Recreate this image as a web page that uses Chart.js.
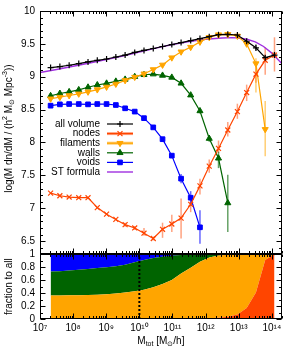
<!DOCTYPE html>
<html>
<head>
<meta charset="utf-8">
<script src="https://cdn.jsdelivr.net/npm/chart.js"></script>
<style>
  html, body { margin: 0; padding: 0; background: #fff; }
  #wrap { width: 287px; height: 349px; }
</style>
</head>
<body>
<div id="wrap"><canvas id="massChart" width="287" height="349"></canvas></div>
<script>
// bin centres, log10(M_tot / (M_sun/h))
const LOG_MASS = [7.32, 7.60, 7.88, 8.17, 8.45, 8.73, 9.01, 9.29, 9.57, 9.86, 10.14, 10.42, 10.70,
    10.98, 11.26, 11.55, 11.83, 12.11, 12.39, 12.67, 12.96, 13.24, 13.52, 13.80, 14.08];

// log(M dn/dM) for every environment
const ALL_VOLUME = [9.14, 9.155, 9.175, 9.20, 9.225, 9.25, 9.27, 9.30, 9.33, 9.37, 9.40, 9.43, 9.46,
    9.49, 9.52, 9.55, 9.58, 9.61, 9.64, 9.645, 9.635, 9.54, 9.44, 9.29, 9.33];
const NODES = [7.23, 7.19, 7.17, 7.16, 7.16, 7.01, 6.91, 6.83, 6.75, 6.70, 6.62, 6.54, 6.68,
    6.76, 6.85, 7.06, 7.34, 7.64, 7.91, 8.19, 8.47, 8.76, 9.04, 9.25, 9.33];
const FILAMENTS = [8.665, 8.69, 8.715, 8.74, 8.77, 8.805, 8.845, 8.89, 8.945, 8.995, 9.045, 9.11, 9.18,
    9.29, 9.38, 9.45, 9.53, 9.60, 9.64, 9.645, 9.62, 9.50, 9.20, 8.20];
const WALLS = [8.71, 8.745, 8.77, 8.80, 8.84, 8.875, 8.90, 8.93, 8.96, 9.00, 9.03, 9.04, 9.02,
    8.99, 8.90, 8.72, 8.48, 8.06, 7.76, 7.08];
const VOIDS = [8.56, 8.58, 8.585, 8.585, 8.58, 8.585, 8.585, 8.57, 8.52, 8.47, 8.37, 8.23, 8.05,
    7.80, 7.45, 7.16, 6.71];

// error bars [low, high], null where too short to see
const ALL_ERR = [null, null, null, null, null, null, null, null, null, null, null, null, null,
    null, null, null, null, null, null, null, null, [9.50, 9.58], [9.39, 9.49], [9.25, 9.33], [9.29, 9.38]];
const NODES_ERR = [null, null, null, null, null, null, null, null, [6.72, 6.78], [6.67, 6.73],
    [6.58, 6.70], [6.51, 6.57], [6.55, 6.78], [6.64, 6.90], [6.54, 7.15], [6.94, 7.12], [7.21, 7.45],
    [7.54, 7.74], [7.84, 8.03], [8.09, 8.31], [8.36, 8.59], [8.63, 8.88], [8.91, 9.18], [9.03, 9.45], [9.08, 9.60]];
const FILAMENTS_ERR = [null, null, null, null, null, null, null, null, null, null, null, null, null,
    null, null, null, null, null, null, null, null, [9.46, 9.54], [8.76, 9.28], [7.79, 8.63]];
const WALLS_ERR = [null, null, null, null, null, null, null, null, null, null, null, null, null,
    null, null, null, [8.44, 8.52], [8.01, 8.10], [7.61, 7.86], [6.64, 7.51]];
const VOIDS_ERR = [null, null, null, null, null, null, null, null, null, null, null, null, null,
    null, [7.38, 7.52], [7.04, 7.26], [6.46, 6.97]];

// Sheth-Tormen curve
const ST_LOG_MASS = [7.0, 7.5, 8.0, 8.5, 9.0, 9.5, 10.0, 10.5, 11.0, 11.5, 12.0, 12.5, 12.8, 13.0,
    13.25, 13.5, 13.75, 14.0, 14.3];
const ST_FORMULA = [9.065, 9.11, 9.16, 9.21, 9.26, 9.315, 9.375, 9.435, 9.49, 9.535, 9.57, 9.59, 9.595,
    9.59, 9.57, 9.53, 9.46, 9.36, 9.20];

// fraction of all haloes in each environment (stacked in the lower panel)
const FRAC_ALL = [1, 1, 1, 1, 1, 1, 1, 1, 1, 1, 1, 1, 1, 1, 1, 1, 1, 1, 1, 1, 1, 1, 1, 1, 1];
const FRAC_NODES = [0.012, 0.011, 0.010, 0.009, 0.009, 0.006, 0.004, 0.003, 0.003, 0.002, 0.002, 0.001,
    0.002, 0.002, 0.002, 0.003, 0.006, 0.011, 0.019, 0.035, 0.068, 0.17, 0.41, 0.91, 1.0];
const FRAC_FILAMENTS = [0.35, 0.352, 0.355, 0.358, 0.362, 0.37, 0.38, 0.39, 0.405, 0.425, 0.45, 0.49,
    0.54, 0.60, 0.70, 0.79, 0.88, 0.94, 0.96, 0.957, 0.93, 0.83, 0.59, 0.09, 0];
const FRAC_WALLS = [0.37, 0.375, 0.385, 0.393, 0.40, 0.41, 0.415, 0.42, 0.43, 0.45, 0.46, 0.45,
    0.42, 0.375, 0.288, 0.202, 0.112, 0.049, 0.021, 0.008, 0.002, 0, 0, 0, 0];
const FRAC_VOIDS = [0.27, 0.26, 0.25, 0.24, 0.23, 0.214, 0.20, 0.187, 0.162, 0.123, 0.088, 0.059,
    0.038, 0.023, 0.01, 0.005, 0.002, 0, 0, 0, 0, 0, 0, 0, 0];

const X_TICKS = [1e7, 1e8, 1e9, 1e10, 1e11, 1e12, 1e13, 1e14];
const Y_TICKS = [6.5, 7, 7.5, 8, 8.5, 9, 9.5, 10];
const FRAC_TICKS = [0, 0.2, 0.4, 0.6, 0.8, 1];
const SPLIT_MASS = 1e10;

const FONT = '"Liberation Sans", Arial, sans-serif';
const SUP = { '0': '⁰', '1': '¹', '2': '²', '3': '³', '4': '⁴', '5': '⁵', '6': '⁶', '7': '⁷', '8': '⁸', '9': '⁹' };

function toPoints(logMass, values) {
    return values.map(function (v, i) { return { x: Math.pow(10, logMass[i]), y: v }; });
}

// draws text made of normal / sup / sub pieces, centred on (x, y)
function drawRich(ctx, parts, x, y, size) {
    const small = Math.round(size * 0.72);
    let width = 0;
    parts.forEach(function (p) {
        ctx.font = (p[1] ? small : size) + 'px ' + FONT;
        width += ctx.measureText(p[0]).width;
    });
    let cx = x - width / 2;
    ctx.textAlign = 'left';
    ctx.textBaseline = 'middle';
    parts.forEach(function (p) {
        ctx.font = (p[1] ? small : size) + 'px ' + FONT;
        let dy = 0;
        if (p[1] === 'sup') dy = -size * 0.35;
        if (p[1] === 'sub') dy = size * 0.28;
        ctx.fillText(p[0], cx, y + dy);
        cx += ctx.measureText(p[0]).width;
    });
}

const errorBarPlugin = {
    id: 'errorBars',
    beforeDatasetsDraw: function (chart) {
        const ctx = chart.ctx;
        ctx.save();
        chart.data.datasets.forEach(function (ds, i) {
            if (!ds.errorBars) return;
            const meta = chart.getDatasetMeta(i);
            const ys = chart.scales[ds.yAxisID];
            ctx.strokeStyle = ds.errorColor;
            ctx.lineWidth = 1.5;
            ds.errorBars.forEach(function (e, j) {
                if (!e || !meta.data[j]) return;
                const px = meta.data[j].x;
                ctx.beginPath();
                ctx.moveTo(px, ys.getPixelForValue(e[0]));
                ctx.lineTo(px, ys.getPixelForValue(e[1]));
                ctx.stroke();
            });
        });
        ctx.restore();
    }
};

const framePlugin = {
    id: 'frame',
    afterDatasetsDraw: function (chart) {
        const ctx = chart.ctx;
        const x = chart.scales.x, y = chart.scales.y, y2 = chart.scales.y2;
        ctx.save();

        // dotted split line in the fraction panel
        const sx = x.getPixelForValue(SPLIT_MASS);
        ctx.strokeStyle = '#000';
        ctx.lineWidth = 2;
        ctx.setLineDash([2, 2]);
        ctx.beginPath();
        ctx.moveTo(sx, y2.bottom);
        ctx.lineTo(sx, y2.top);
        ctx.stroke();
        ctx.setLineDash([]);

        ctx.lineWidth = 1;
        [y, y2].forEach(function (ys) {
            const top = Math.round(ys.top) + 0.5, bottom = Math.round(ys.bottom) - 0.5;
            const left = Math.round(x.left) + 0.5, right = Math.round(x.right) - 0.5;
            ctx.strokeRect(left, top, right - left, bottom - top);
            ctx.beginPath();
            // log ticks on top and bottom edges
            for (let n = 7; n <= 14; n++) {
                for (let k = 1; k <= 9; k++) {
                    const v = k * Math.pow(10, n);
                    if (v > x.max) break;
                    const px = Math.round(x.getPixelForValue(v)) + 0.5;
                    const len = k === 1 ? 5 : 2.5;
                    ctx.moveTo(px, top); ctx.lineTo(px, top + len);
                    ctx.moveTo(px, bottom); ctx.lineTo(px, bottom - len);
                }
            }
            // value ticks on left and right edges
            const lo = Math.round(ys.min * 10), hi = Math.round(ys.max * 10);
            const step = ys.id === 'y' ? 5 : 2;
            for (let t = lo; t <= hi; t++) {
                const py = Math.round(ys.getPixelForValue(t / 10)) + 0.5;
                const len = t % step === 0 ? 5 : 2.5;
                ctx.moveTo(left, py); ctx.lineTo(left + len, py);
                ctx.moveTo(right, py); ctx.lineTo(right - len, py);
            }
            ctx.stroke();
        });
        ctx.restore();
    }
};

const legendPlugin = {
    id: 'envLegend',
    afterDatasetsDraw: function (chart) {
        const ctx = chart.ctx;
        const rows = chart.data.datasets.filter(function (ds) { return ds.yAxisID === 'y'; });
        ctx.save();
        ctx.font = '10px ' + FONT;
        ctx.textAlign = 'right';
        ctx.textBaseline = 'middle';
        rows.forEach(function (ds, i) {
            const ly = 124 + i * 9.6;
            ctx.fillStyle = '#000';
            ctx.fillText(ds.label, 100, ly);
            if (ds.legendBand) {
                ctx.strokeStyle = ds.errorColor;
                ctx.lineWidth = 3;
                ctx.beginPath(); ctx.moveTo(107, ly); ctx.lineTo(133, ly); ctx.stroke();
            }
            ctx.strokeStyle = ds.borderColor;
            ctx.lineWidth = ds.borderWidth;
            ctx.beginPath(); ctx.moveTo(107, ly); ctx.lineTo(133, ly); ctx.stroke();
            if (ds.pointRadius > 0 && Chart.helpers && Chart.helpers.drawPoint) {
                ctx.fillStyle = ds.borderColor;
                ctx.lineWidth = ds.pointBorderWidth || 1;
                Chart.helpers.drawPoint(ctx, {
                    pointStyle: ds.pointStyle, rotation: ds.pointRotation || 0,
                    radius: ds.pointRadius, borderWidth: ds.pointBorderWidth || 1
                }, 120, ly);
            }
        });
        ctx.restore();
    }
};

const titlePlugin = {
    id: 'axisTitles',
    afterDraw: function (chart) {
        const ctx = chart.ctx;
        const x = chart.scales.x, y = chart.scales.y, y2 = chart.scales.y2;
        ctx.save();
        ctx.fillStyle = '#000';
        drawRich(ctx, [['M'], ['tot', 'sub'], [' [M'], ['⊙', 'sub'], ['/h]']], (x.left + x.right) / 2, 341, 10);

        ctx.save();
        ctx.translate(9, (y.top + y.bottom) / 2 - 4);
        ctx.rotate(-Math.PI / 2);
        drawRich(ctx, [['log(M dn/dM / (h'], ['2', 'sup'], [' M'], ['⊙', 'sub'], [' Mpc'], ['-3', 'sup'], ['))']], 0, 0, 10);
        ctx.restore();

        ctx.save();
        ctx.translate(9, (y2.top + y2.bottom) / 2);
        ctx.rotate(-Math.PI / 2);
        drawRich(ctx, [['fraction to all']], 0, 0, 10);
        ctx.restore();
        ctx.restore();
    }
};

Chart.defaults.font.family = FONT;
Chart.defaults.font.size = 10;
Chart.defaults.color = '#000';

const lineBase = { yAxisID: 'y', borderWidth: 1.2, tension: 0, pointBorderWidth: 1, fill: false };
const fracBase = { yAxisID: 'y2', stack: 'env', borderWidth: 0, pointRadius: 0, tension: 0, fill: '-1' };
const noGrid = { display: false, drawTicks: false, tickLength: 0 };

new Chart(document.getElementById('massChart'), {
    type: 'line',
    data: {
        datasets: [
            Object.assign({}, lineBase, {
                label: 'all volume', data: toPoints(LOG_MASS, ALL_VOLUME),
                borderColor: '#000000', backgroundColor: '#000000',
                pointStyle: 'cross', pointRadius: 3, pointBorderWidth: 1.2,
                errorBars: ALL_ERR, errorColor: 'rgba(0,0,0,0.45)'
            }),
            Object.assign({}, lineBase, {
                label: 'nodes', data: toPoints(LOG_MASS, NODES),
                borderColor: '#ff4500', backgroundColor: '#ff4500',
                pointStyle: 'crossRot', pointRadius: 3.5, pointBorderWidth: 1.2,
                errorBars: NODES_ERR, errorColor: 'rgba(255,69,0,0.5)', legendBand: true
            }),
            Object.assign({}, lineBase, {
                label: 'filaments', data: toPoints(LOG_MASS, FILAMENTS),
                borderColor: '#ffa500', backgroundColor: '#ffa500',
                pointStyle: 'triangle', pointRotation: 180, pointRadius: 3.5,
                errorBars: FILAMENTS_ERR, errorColor: 'rgba(255,165,0,0.55)', legendBand: true
            }),
            Object.assign({}, lineBase, {
                label: 'walls', data: toPoints(LOG_MASS, WALLS),
                borderColor: '#006400', backgroundColor: '#006400',
                pointStyle: 'triangle', pointRadius: 3.5,
                errorBars: WALLS_ERR, errorColor: 'rgba(0,100,0,0.6)'
            }),
            Object.assign({}, lineBase, {
                label: 'voids', data: toPoints(LOG_MASS, VOIDS),
                borderColor: '#0000ff', backgroundColor: '#0000ff',
                pointStyle: 'rect', pointRadius: 3.3,
                errorBars: VOIDS_ERR, errorColor: 'rgba(0,0,255,0.6)'
            }),
            Object.assign({}, lineBase, {
                label: 'ST formula', data: toPoints(ST_LOG_MASS, ST_FORMULA),
                borderColor: '#a030e0', backgroundColor: '#a030e0',
                borderWidth: 1.4, pointRadius: 0
            }),

            // lower panel, stacked fractions
            Object.assign({}, fracBase, { label: 'nodes frac', data: toPoints(LOG_MASS, FRAC_NODES),
                backgroundColor: '#ff4500', fill: 'origin' }),
            Object.assign({}, fracBase, { label: 'filaments frac', data: toPoints(LOG_MASS, FRAC_FILAMENTS),
                backgroundColor: '#ffa500' }),
            Object.assign({}, fracBase, { label: 'walls frac', data: toPoints(LOG_MASS, FRAC_WALLS),
                backgroundColor: '#006400' }),
            Object.assign({}, fracBase, { label: 'voids frac', data: toPoints(LOG_MASS, FRAC_VOIDS),
                backgroundColor: '#0000ff' }),
            { label: 'all frac', data: toPoints(LOG_MASS, FRAC_ALL), yAxisID: 'y2', stack: 'all',
              borderColor: '#000000', borderWidth: 2, pointRadius: 0, fill: false, tension: 0 }
        ]
    },
    options: {
        responsive: false,
        animation: false,
        events: [],
        layout: { padding: { top: 5, right: 3, left: 0, bottom: 0 } },
        plugins: { legend: { display: false }, tooltip: { enabled: false } },
        scales: {
            x: {
                type: 'logarithmic', position: 'bottom', min: 1e7, max: 2e14,
                grid: noGrid, border: { display: false },
                ticks: {
                    autoSkip: false, maxRotation: 0, padding: 3,
                    callback: function (v) {
                        const e = String(Math.round(Math.log10(v)));
                        return '10' + e.split('').map(function (c) { return SUP[c]; }).join('');
                    }
                },
                afterBuildTicks: function (s) { s.ticks = X_TICKS.map(function (v) { return { value: v }; }); },
                afterFit: function (s) { s.height = 30; }
            },
            y: {
                type: 'linear', position: 'left', stack: 'panels', stackWeight: 248, weight: 2,
                min: 6.3, max: 10,
                grid: noGrid, border: { display: false },
                ticks: { autoSkip: false, padding: 5, callback: function (v) { return String(v); } },
                afterBuildTicks: function (s) { s.ticks = Y_TICKS.map(function (v) { return { value: v }; }); },
                afterFit: function (s) { s.width = 40; }
            },
            y2: {
                type: 'linear', position: 'left', stack: 'panels', stackWeight: 66, weight: 1,
                min: 0, max: 1, stacked: true,
                grid: noGrid, border: { display: false },
                ticks: { autoSkip: false, padding: 5, callback: function (v) { return String(v); } },
                afterBuildTicks: function (s) { s.ticks = FRAC_TICKS.map(function (v) { return { value: v }; }); },
                afterFit: function (s) { s.width = 40; }
            }
        }
    },
    plugins: [errorBarPlugin, framePlugin, legendPlugin, titlePlugin]
});
</script>
</body>
</html>
